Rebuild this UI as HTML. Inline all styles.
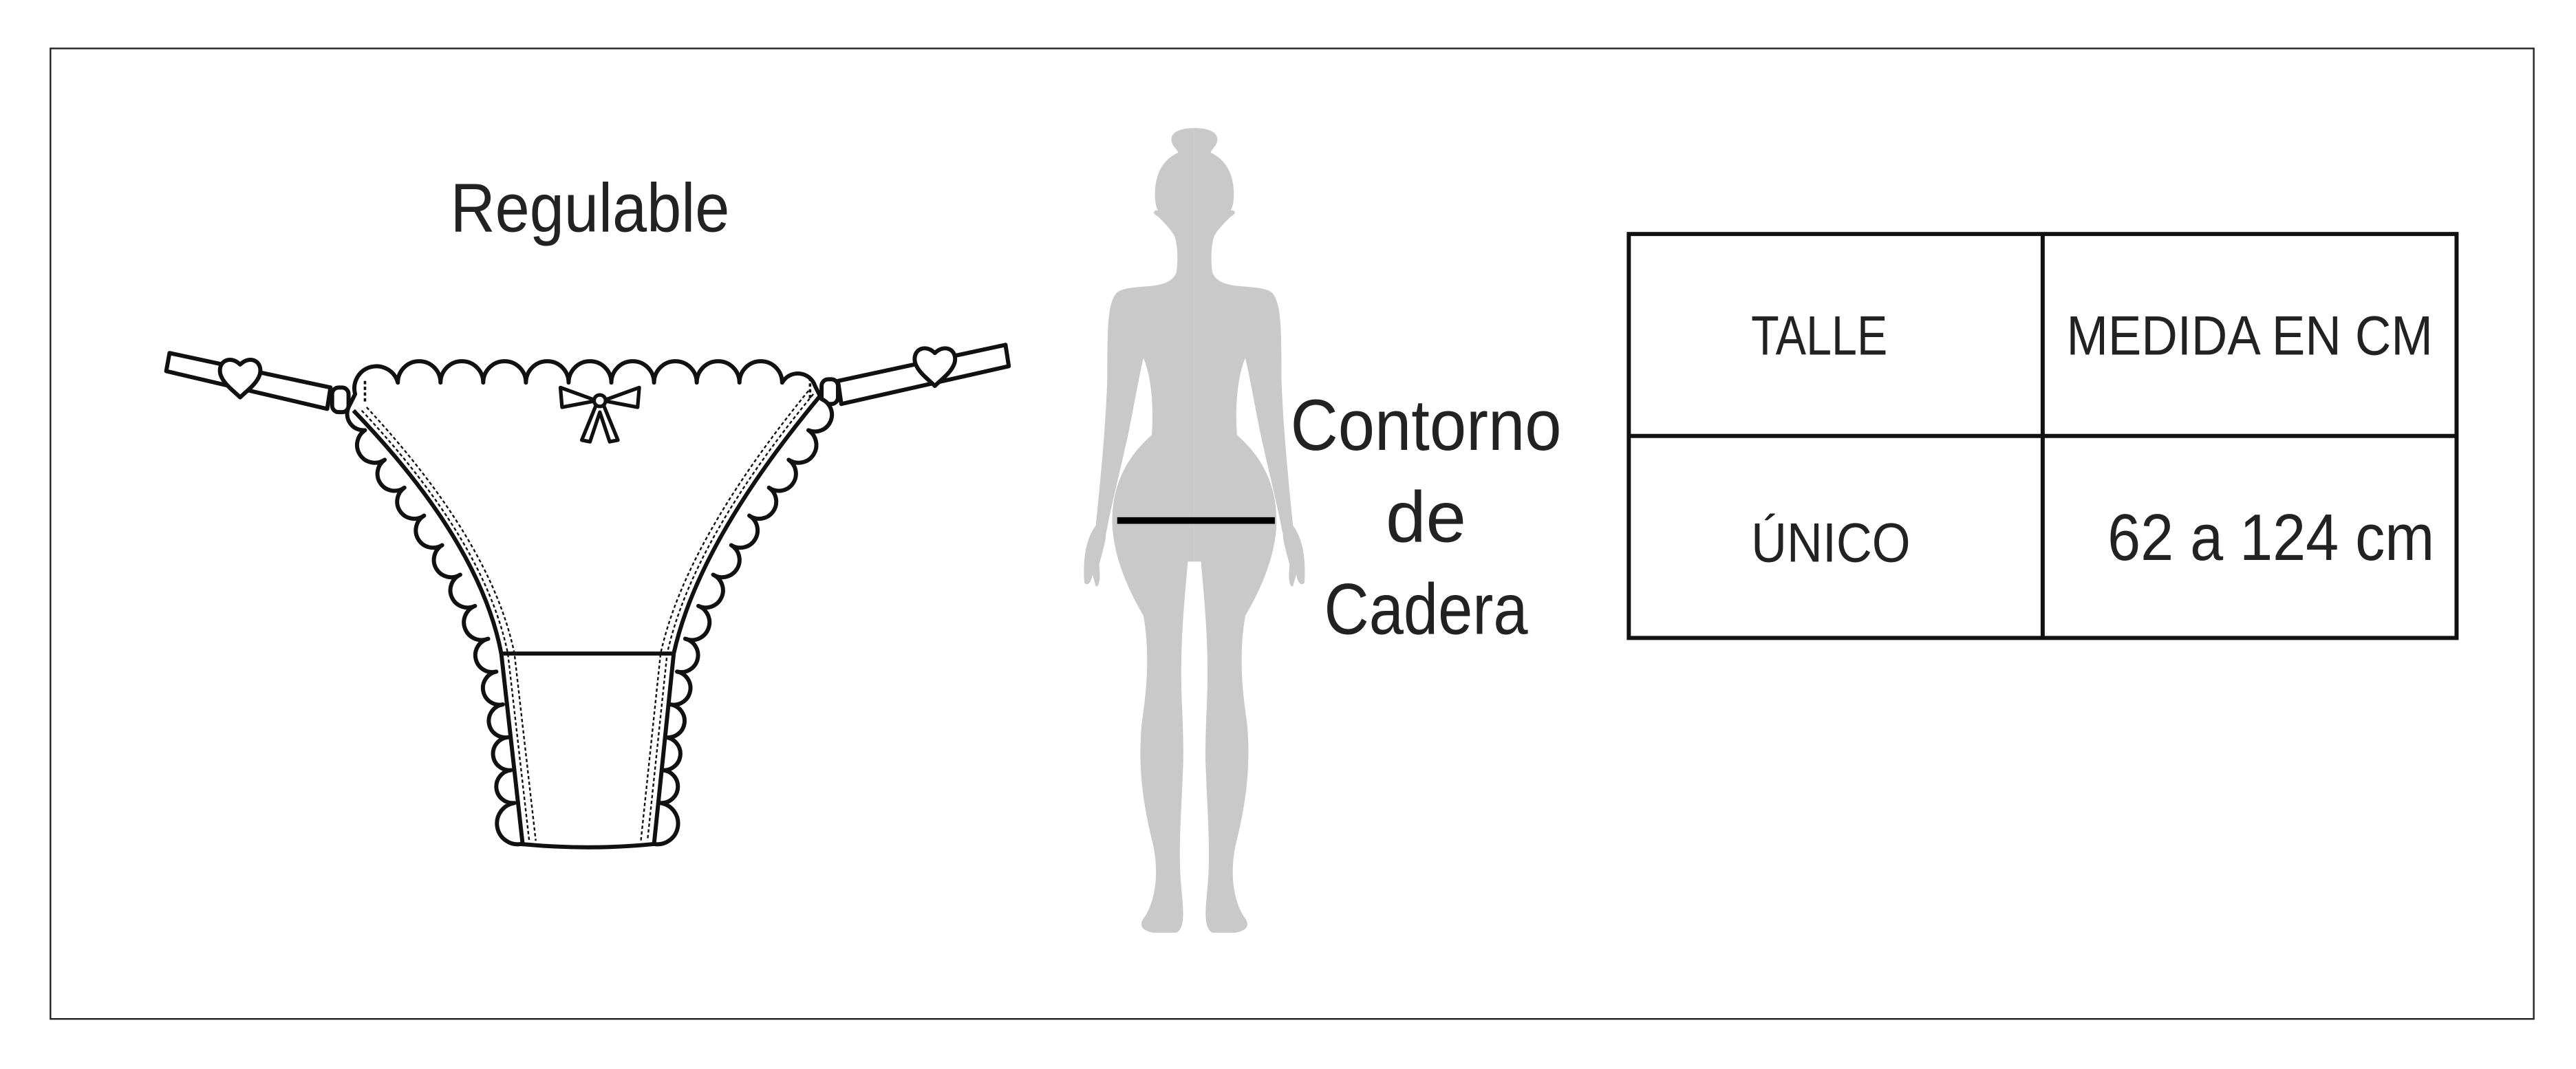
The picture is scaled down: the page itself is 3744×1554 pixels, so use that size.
<!DOCTYPE html>
<html><head><meta charset="utf-8"><style>html,body{margin:0;padding:0;background:#fff}svg{display:block}</style></head>
<body>
<svg width="3744" height="1554" viewBox="0 0 1568 651" xmlns="http://www.w3.org/2000/svg" font-family="'Liberation Sans', sans-serif">
<rect x="0" y="0" width="1568" height="651" fill="#fff"/>
<rect x="30.5" y="29.5" width="1512" height="591" fill="none" stroke="#222" stroke-width="1"/>

<text x="274" y="141" font-size="42" textLength="170" lengthAdjust="spacingAndGlyphs" fill="#222">Regulable</text>

<!-- straps -->
<g fill="#fff" stroke="#111" stroke-width="2.5" stroke-linejoin="round">
<path d="M103,215 L201,236 L199,249 L101,226 Z"/>
<path d="M510,232 L612,210 L614,223 L512,246 Z"/>
<path d="M146,222 c-6,-6 -14,-2 -12,6 c2,6 8,10 12,14 c4,-4 10,-8 12,-14 c2,-8 -6,-12 -12,-6 z"/>
<path d="M569,215 c-6,-6 -14,-2 -12,6 c2,6 8,10 12,14 c4,-4 10,-8 12,-14 c2,-8 -6,-12 -12,-6 z"/>
<rect x="202" y="236" width="10" height="15" rx="4"/>
<rect x="500" y="231" width="10" height="15" rx="4"/>
</g>

<!-- scallop edges -->
<g fill="#fff" stroke="#111" stroke-width="2.5" stroke-linejoin="round">
<path d="M216,240 A13,13 0 0 1 242,233 A13,13 0 0 1 268,233 A13,13 0 0 1 294,233 A13,13 0 0 1 320,233 A13,13 0 0 1 346,233 A13,13 0 0 1 372,233 A13,13 0 0 1 398,233 A13,13 0 0 1 424,233 A13,13 0 0 1 450,233 A13,13 0 0 1 476,233 A11,11 0 0 1 496,235 L500,243
A10,10 0 0 1 492,262 A10,10 0 0 1 480,280 A10,10 0 0 1 468,297 A10,10 0 0 1 456,314 A10,10 0 0 1 445,332 A10,10 0 0 1 434,350 A10,10 0 0 1 425,369 A10,10 0 0 1 417,389 A10,10 0 0 1 412,409 A10,10 0 0 1 408,429 A10,10 0 0 1 405,449 A10,10 0 0 1 403,469 A10,10 0 0 1 402,489 A10,10 0 0 1 398,514
Q358,518 317,514
A10,10 0 0 1 313,489 A10,10 0 0 1 311,469 A10,10 0 0 1 309,449 A10,10 0 0 1 306,429 A10,10 0 0 1 302,409 A10,10 0 0 1 297,389 A10,10 0 0 1 289,369 A10,10 0 0 1 280,350 A10,10 0 0 1 269,332 A10,10 0 0 1 258,314 A10,10 0 0 1 246,297 A10,10 0 0 1 234,280 A10,10 0 0 1 222,262 A10,10 0 0 1 212,248 Z"/>
</g>
<g fill="none" stroke="#111">
<path d="M215,250 Q292,330 305,398 L318,514" stroke-width="2.5"/>
<path d="M500,240 Q425,330 410,398 L398,514" stroke-width="2.5"/>
<path d="M220,250 Q295,330 309,398 L322,512" stroke-width="1" stroke-dasharray="2,1.5"/>
<path d="M223,248 Q299,330 313,398 L326,512" stroke-width="1" stroke-dasharray="2,1.5"/>
<path d="M495,240 Q421,330 406,398 L394,512" stroke-width="1" stroke-dasharray="2,1.5"/>
<path d="M492,238 Q417,330 402,398 L390,512" stroke-width="1" stroke-dasharray="2,1.5"/>
<line x1="304" y1="398" x2="410" y2="398" stroke-width="2.5"/>
<line x1="222" y1="232" x2="222" y2="246" stroke-width="1.5" stroke-dasharray="2,1.5"/>
<line x1="493" y1="230" x2="493" y2="244" stroke-width="1.5" stroke-dasharray="2,1.5"/>
</g>
<!-- bow -->
<g fill="#fff" stroke="#111" stroke-width="2.2" stroke-linejoin="round">
<path d="M363,244 L341,236 L342,248 Z"/>
<path d="M367,244 L389,236 L388,248 Z"/>
<path d="M363,246 L354,268 L359,269 L365,251 L371,269 L376,268 L367,246 Z"/>
<circle cx="365" cy="244" r="3.5"/>
</g>

<!-- silhouette -->
<g fill="#c9c9c9">
<path id="half" d="M727,78 C735,78 741,80 741,85 C741,89 737,91 737,93 C746,97 751,106 751,118 C751,124 750,127 749,128 C752,128 753,130 749,132 C745,136 741,140 739,144 C737,150 737,160 738,166 C740,171 745,173 752,174 C762,175 770,175 774,178 C780,184 780,200 780,230 C781,260 784,290 787,320 C793,328 795,340 794,355 C792,357 790,355 789,350 L787,357 C785,358 784,352 785,344 C783,336 781,330 781,326 C778,310 773,290 769,272 C765,255 762,235 758,218 C752,232 752,255 753,265 C768,278 777,295 777,317 C777,337 768,358 758,375 C754,398 756,420 759,440 C762,470 757,495 752,515 C748,535 752,550 757,558 C762,564 758,567 752,568 L738,568 C732,565 734,552 735,540 C737,520 735,495 734,470 C733,450 735,430 735,410 C735,385 733,365 731,342 L727,342 Z"/>
<use href="#half" transform="translate(1454,0) scale(-1,1)"/>
</g>
<line x1="680" y1="317" x2="776" y2="317" stroke="#000" stroke-width="4"/>

<g font-size="44" fill="#222" text-anchor="middle">
<text x="868" y="274" textLength="165" lengthAdjust="spacingAndGlyphs">Contorno</text>
<text x="868" y="330">de</text>
<text x="868" y="386" textLength="124" lengthAdjust="spacingAndGlyphs">Cadera</text>
</g>

<!-- table -->
<g fill="none" stroke="#111" stroke-width="2.5">
<rect x="991.5" y="142.5" width="504" height="246"/>
<line x1="1243.5" y1="142" x2="1243.5" y2="389"/>
<line x1="991" y1="265.5" x2="1496" y2="265.5"/>
</g>
<g fill="#222">
<text x="1066" y="216" font-size="34" textLength="83" lengthAdjust="spacingAndGlyphs">TALLE</text>
<text x="1258" y="216" font-size="34" textLength="223" lengthAdjust="spacingAndGlyphs">MEDIDA EN CM</text>
<text x="1066" y="342" font-size="34" textLength="97" lengthAdjust="spacingAndGlyphs">ÚNICO</text>
<text x="1283" y="341" font-size="40" textLength="199" lengthAdjust="spacingAndGlyphs">62 a 124 cm</text>
</g>
</svg>
</body></html>
